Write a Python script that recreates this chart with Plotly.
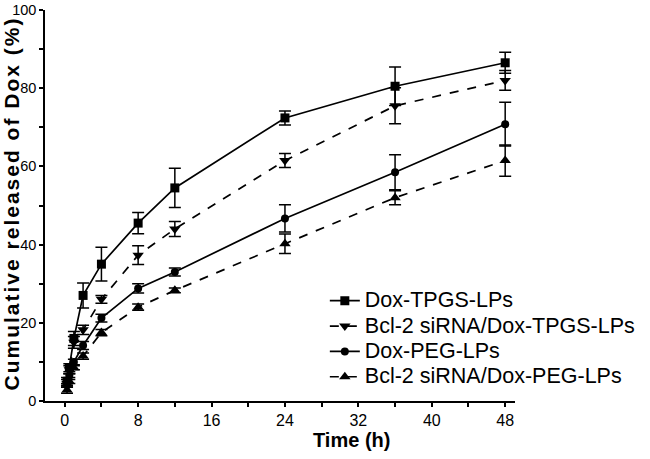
import plotly.graph_objects as go

time_h = [0.25, 0.5, 1, 2, 4, 8, 12, 24, 36, 48]

series_names = [
    "Dox-TPGS-LPs",
    "Bcl-2 siRNA/Dox-TPGS-LPs",
    "Dox-PEG-LPs",
    "Bcl-2 siRNA/Dox-PEG-LPs",
]

tpgs_vals = [5.0, 8.5, 16.0, 27.0, 35.0, 45.5, 54.5, 72.4, 80.5, 86.5]
tpgs_err = [1.0, 1.0, 1.8, 3.2, 4.3, 2.7, 5.0, 1.8, 4.9, 2.7]

si_tpgs_vals = [4.5, 8.0, 15.0, 18.2, 26.0, 37.3, 44.0, 61.5, 75.5, 82.0]
si_tpgs_err = [1.0, 1.0, 1.5, 1.2, 1.0, 2.4, 1.9, 1.8, 4.6, 2.5]

peg_vals = [4.0, 6.5, 10.0, 14.2, 21.2, 28.8, 33.0, 46.7, 58.5, 70.8]
peg_err = [0.5, 0.5, 0.7, 1.0, 1.0, 1.2, 1.0, 3.5, 4.5, 5.6]

si_peg_vals = [2.8, 5.0, 8.5, 11.5, 17.5, 24.0, 28.3, 40.2, 52.0, 61.5]
si_peg_err = [0.8, 0.5, 0.5, 0.8, 0.8, 0.8, 0.6, 2.5, 1.8, 4.0]

x_ticks = [0, 8, 16, 24, 32, 40, 48]
y_ticks = [0, 20, 40, 60, 80, 100]

values = [tpgs_vals, si_tpgs_vals, peg_vals, si_peg_vals]
errors = [tpgs_err, si_tpgs_err, peg_err, si_peg_err]
symbols = ["square", "triangle-down", "circle", "triangle-up"]
dashes = ["solid", "dash", "solid", "dash"]
sizes = [9, 10, 8, 10]

FONT = "Arial, Liberation Sans, Helvetica, sans-serif"

L, R, T, B = 45, 128, 10, 58
PW, PH = 650 - L - R, 459 - T - B
X0 = 459 - B  # pixel row of the x axis

fig = go.Figure()
for name, v, e, sym, d, s in zip(series_names, values, errors, symbols, dashes, sizes):
    fig.add_trace(go.Scatter(
        x=time_h, y=v, name=f"<span style='font-size:21.5px'>{name}</span>",
        mode="lines+markers",
        line=dict(color="black", width=1.7, dash=d),
        marker=dict(symbol=sym, size=s, color="black"),
        error_y=dict(type="data", array=e, visible=True, color="black",
                     thickness=1.5, width=6),
        cliponaxis=False,
    ))

fig.update_layout(
    width=650, height=459,
    margin=dict(l=L, r=R, t=T, b=B),
    plot_bgcolor="white", paper_bgcolor="white",
    font=dict(family=FONT, color="black", size=16),
    showlegend=True,
    legend=dict(
        x=(329 - L) / PW, y=(X0 - 283) / PH, xanchor="left", yanchor="top",
        bgcolor="rgba(0,0,0,0)", borderwidth=0,
        font=dict(family=FONT, size=17.2, color="black"),
        tracegroupgap=0, itemwidth=30,
    ),
)

fig.update_xaxes(
    range=[-2.15, 49.07], tickvals=x_ticks, ticktext=[str(t) for t in x_ticks],
    showgrid=False, zeroline=False, showline=True, linecolor="black", linewidth=1.5,
    ticks="outside", ticklen=4, tickwidth=1.5, tickcolor="black",
    tickfont=dict(size=16, family=FONT),
    minor=dict(dtick=4, tick0=0, ticks="outside", ticklen=4, tickwidth=1.5, tickcolor="black", showgrid=False),
    ticklabeloverflow="allow", automargin=False,
)
fig.update_yaxes(
    range=[0, 100], tickvals=y_ticks, ticktext=[str(t) for t in y_ticks],
    showgrid=False, zeroline=False, showline=True, linecolor="black", linewidth=1.5,
    ticks="outside", ticklen=4, tickwidth=1.5, tickcolor="black",
    tickfont=dict(size=14.5, family=FONT),
    minor=dict(dtick=10, tick0=0, ticks="outside", ticklen=4, tickwidth=1.5, tickcolor="black", showgrid=False),
    ticklabeloverflow="allow", automargin=False,
)

fig.add_annotation(
    text="<b>Time (h)</b>", xref="paper", yref="paper",
    x=(356 - L) / PW, y=-(440 - X0) / PH, xanchor="center", yanchor="middle",
    showarrow=False, font=dict(size=20, family=FONT, color="black"),
)
fig.add_annotation(
    text="<span style='letter-spacing:2px'><b>Cumulative released of Dox (%)</b></span>",
    xref="paper", yref="paper",
    x=-(L - 12) / PW, y=(X0 - 203) / PH, xanchor="center", yanchor="middle", textangle=-90,
    showarrow=False, font=dict(size=21, family=FONT, color="black"),
)

fig.write_html(
    "out.html",
    config={"displayModeBar": False},
    post_script="document.body.style.margin='0';document.body.style.padding='0';",
)
